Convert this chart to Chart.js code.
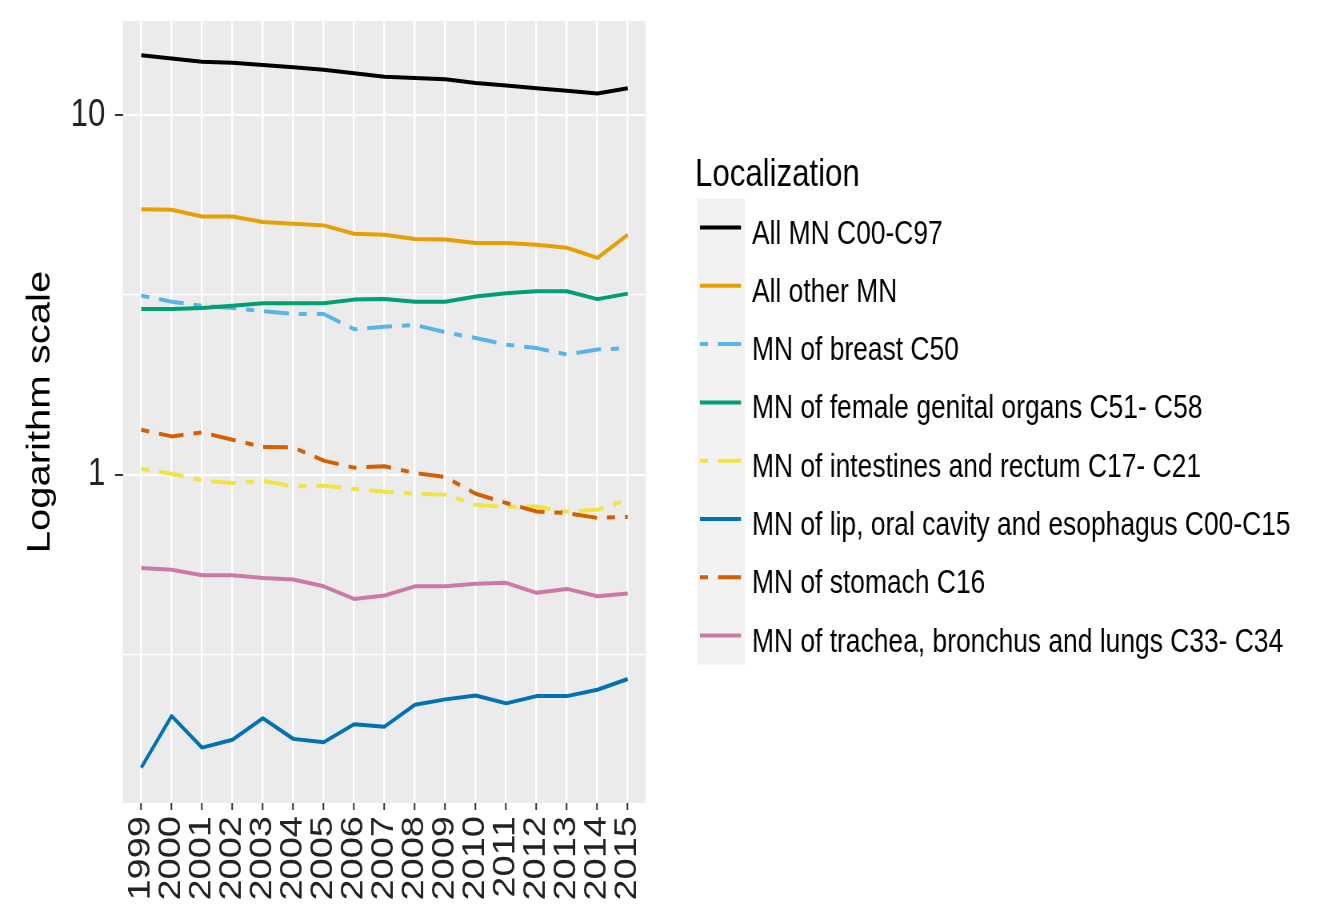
<!DOCTYPE html>
<html>
<head>
<meta charset="utf-8">
<title>Localization – logarithm scale</title>
<script src="https://cdn.jsdelivr.net/npm/chart.js@4.4.1/dist/chart.umd.min.js"></script>
<style>
  html, body { margin: 0; padding: 0; background: #ffffff; overflow: hidden; }
  #wrap { position: relative; width: 1325px; height: 922px; overflow: hidden; }
  /* the figure is laid out on a wider canvas and condensed horizontally */
  #c { position: absolute; left: 0; top: 0; transform: scaleX(0.8); transform-origin: 0 0; }
</style>
</head>
<body>
<div id="wrap"><canvas id="c" width="1657" height="922"></canvas></div>
<script>
// ---- data -------------------------------------------------------------
const years = ['1999','2000','2001','2002','2003','2004','2005','2006','2007',
               '2008','2009','2010','2011','2012','2013','2014','2015'];

const allMN          = [14.7, 14.4, 14.1, 14.0, 13.8, 13.6, 13.4, 13.1, 12.8, 12.7, 12.6, 12.3, 12.1, 11.9, 11.7, 11.5, 11.9];
const allOtherMN     = [5.48, 5.46, 5.23, 5.23, 5.05, 4.99, 4.94, 4.68, 4.65, 4.53, 4.51, 4.41, 4.41, 4.36, 4.28, 4.01, 4.65];
const breast         = [3.15, 3.03, 2.95, 2.91, 2.85, 2.80, 2.80, 2.54, 2.58, 2.61, 2.49, 2.40, 2.30, 2.25, 2.16, 2.23, 2.25];
const femaleGenital  = [2.89, 2.89, 2.91, 2.95, 3.00, 3.00, 3.00, 3.07, 3.08, 3.03, 3.03, 3.13, 3.20, 3.24, 3.24, 3.08, 3.19];
const intestines     = [1.039, 1.006, 0.964, 0.948, 0.962, 0.928, 0.932, 0.912, 0.897, 0.885, 0.880, 0.825, 0.813, 0.816, 0.789, 0.799, 0.852];
const lipOral        = [0.153, 0.213, 0.174, 0.183, 0.210, 0.184, 0.180, 0.202, 0.199, 0.229, 0.237, 0.243, 0.231, 0.242, 0.242, 0.252, 0.270];
const stomach        = [1.334, 1.278, 1.311, 1.251, 1.194, 1.191, 1.094, 1.046, 1.055, 1.011, 0.985, 0.885, 0.834, 0.790, 0.782, 0.758, 0.763];
const trachea        = [0.550, 0.544, 0.525, 0.525, 0.516, 0.511, 0.489, 0.451, 0.461, 0.489, 0.489, 0.497, 0.500, 0.469, 0.481, 0.459, 0.467];

const seriesLabels = [
  'All MN C00-C97',
  'All other MN',
  'MN of breast C50',
  'MN of female genital organs C51- C58',
  'MN of intestines and rectum C17- C21',
  'MN of lip, oral cavity and esophagus C00-C15',
  'MN of stomach C16',
  'MN of trachea, bronchus and lungs C33- C34'
];
const seriesValues = [allMN, allOtherMN, breast, femaleGenital, intestines, lipOral, stomach, trachea];

const yBreaks = [1, 10];                 // labelled major breaks
const yMinorBreaks = [Math.sqrt(0.1), Math.sqrt(10)];
const legendTitle = 'Localization';
const yTitle = 'Logarithm scale';

// ---- styling ----------------------------------------------------------
const FONT = "'Liberation Sans', Arial, sans-serif";
const SX = 0.8;                          // horizontal condensing of the canvas
const cx = v => v / SX;                  // page x -> canvas x

const colors = ['#000000', '#E69F00', '#56B4E9', '#009E73', '#F0E442', '#0072B2', '#D55E00', '#CC79A7'];
const twoDash = [10, 12.5, 31, 12.5];
const dashes = [[], [], twoDash, [], twoDash, [], twoDash, []];

// grey panel behind the plotting region
const panelBackground = {
  id: 'panelBackground',
  beforeDraw(chart) {
    const { ctx, chartArea: a } = chart;
    ctx.save();
    ctx.fillStyle = '#EBEBEB';
    ctx.fillRect(a.left, a.top, a.right - a.left, a.bottom - a.top);
    ctx.restore();
  }
};

// key column with line samples, title and labels to the right of the panel
const keyLegend = {
  id: 'keyLegend',
  afterDraw(chart) {
    const ctx = chart.ctx;
    const titleX = cx(695), titleY = 186;
    const keyX = cx(697), keyW = cx(745) - cx(697);
    const lineX0 = cx(700), lineX1 = cx(741);
    const textX = cx(752);
    const firstY = 227.5, rowH = 58.3;
    ctx.save();
    ctx.textBaseline = 'alphabetic';
    ctx.textAlign = 'left';
    ctx.fillStyle = '#000000';
    ctx.font = `39px ${FONT}`;
    ctx.fillText(legendTitle, titleX, titleY);
    chart.data.datasets.forEach((ds, i) => {
      const y = firstY + i * rowH;
      ctx.fillStyle = '#F2F2F2';
      ctx.fillRect(keyX, y - rowH / 2, keyW, rowH);
      ctx.beginPath();
      ctx.strokeStyle = ds.borderColor;
      ctx.lineWidth = ds.borderWidth;
      ctx.lineCap = 'butt';
      ctx.setLineDash(ds.borderDash || []);
      ctx.moveTo(lineX0, y);
      ctx.lineTo(lineX1, y);
      ctx.stroke();
      ctx.setLineDash([]);
      ctx.fillStyle = '#000000';
      ctx.font = `33px ${FONT}`;
      ctx.fillText(ds.label, textX, y + 16);
    });
    ctx.restore();
  }
};

const datasets = seriesLabels.map((label, i) => ({
  label,
  data: seriesValues[i].map((v, j) => ({ x: j, y: v })),
  borderColor: colors[i],
  backgroundColor: colors[i],
  borderWidth: 4,
  borderDash: dashes[i],
  borderCapStyle: 'butt',
  borderJoinStyle: 'round',
  pointRadius: 0,
  tension: 0,
  fill: false,
  order: seriesLabels.length - i
}));

const isMajorY = v => yBreaks.some(b => Math.abs(b - v) < 1e-9);

new Chart(document.getElementById('c'), {
  type: 'line',
  data: { datasets },
  plugins: [panelBackground, keyLegend],
  options: {
    responsive: false,
    animation: false,
    devicePixelRatio: 1,
    layout: { padding: { left: 0, top: 21, right: 1657 - cx(646), bottom: 0 } },
    plugins: { legend: { display: false }, tooltip: { enabled: false } },
    scales: {
      x: {
        type: 'linear',
        bounds: 'data',
        min: -0.6,
        max: years.length - 1 + 0.6,
        afterBuildTicks(scale) {
          scale.ticks = years.map((_, i) => ({ value: i }));
        },
        afterFit(scale) {
          scale.height = 922 - 803;
          scale.paddingLeft = 0;
          scale.paddingRight = 0;
        },
        border: { display: false },
        grid: {
          color: '#FFFFFF',
          lineWidth: 2.5,
          drawTicks: true,
          tickLength: 7,
          tickColor: '#333333',
          tickWidth: 2
        },
        ticks: {
          autoSkip: false,
          minRotation: 90,
          maxRotation: 90,
          padding: 6,
          color: '#222222',
          font: { family: FONT, size: 38 },
          callback: v => years[v] ?? ''
        }
      },
      y: {
        type: 'logarithmic',
        bounds: 'data',
        min: 0.122,
        max: 18.3,
        afterBuildTicks(scale) {
          scale.ticks = [yMinorBreaks[0], yBreaks[0], yMinorBreaks[1], yBreaks[1]].map(v => ({ value: v }));
        },
        afterFit(scale) {
          scale.width = cx(123);
          scale.paddingTop = 0;
          scale.paddingBottom = 0;
        },
        border: { display: false },
        grid: {
          color: '#FFFFFF',
          lineWidth: c => (c.tick && isMajorY(c.tick.value)) ? 2 : 1.2,
          drawTicks: true,
          tickLength: 10,
          tickColor: c => (c.tick && isMajorY(c.tick.value)) ? '#333333' : 'rgba(0,0,0,0)',
          tickWidth: 2
        },
        ticks: {
          autoSkip: false,
          padding: 12,
          color: '#222222',
          font: { family: FONT, size: 39 },
          callback: v => isMajorY(v) ? String(Math.round(v)) : ''
        },
        title: {
          display: true,
          text: yTitle,
          color: '#000000',
          font: { family: FONT, size: 40 },
          padding: { top: 27, bottom: 0 }
        }
      }
    }
  }
});
</script>
</body>
</html>
